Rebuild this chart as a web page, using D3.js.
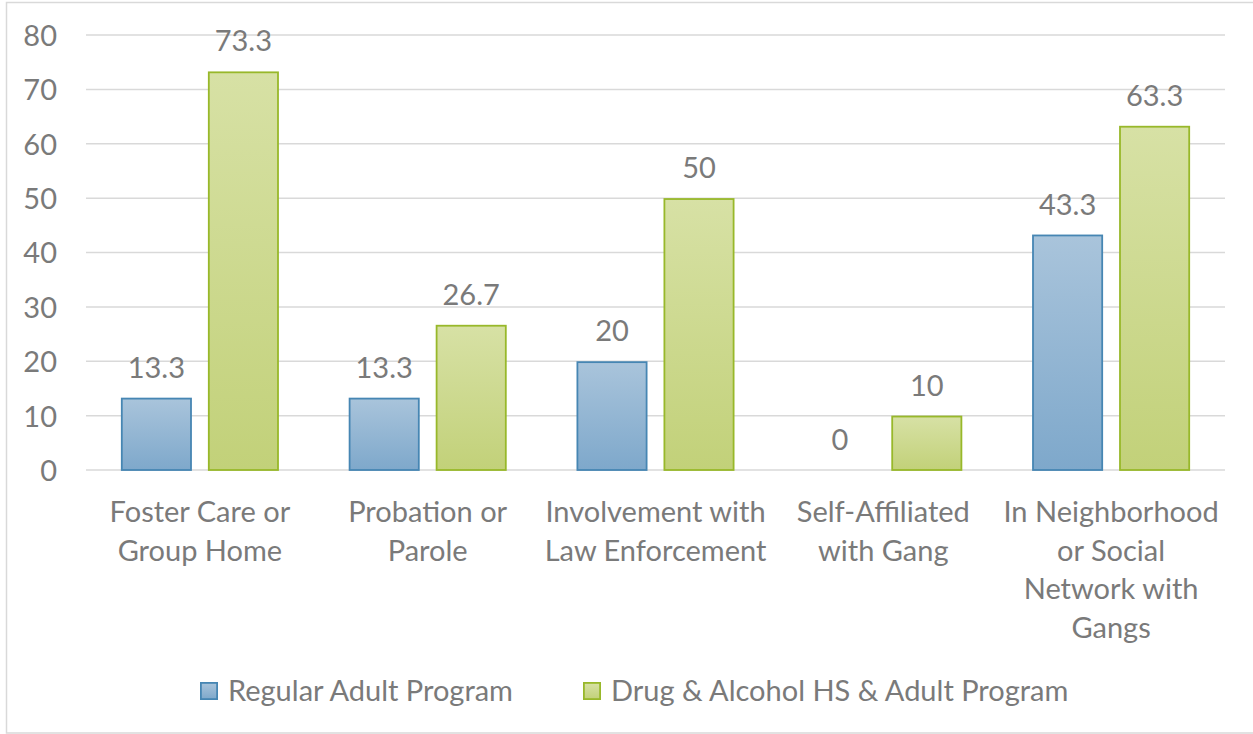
<!DOCTYPE html>
<html>
<head>
<meta charset="utf-8">
<script src="https://cdn.jsdelivr.net/npm/d3@7"></script>
<style>
  html, body { margin: 0; padding: 0; background: #fff; }
  svg { display: block; }
  text { font-family: Lato, "Open Sans", sans-serif; fill: #7a7a7a; }
</style>
</head>
<body>
<svg id="chart" width="1253" height="734"></svg>
<script>
// Category labels (each entry is a list of wrapped lines)
const categories = [
  ["Foster Care or", "Group Home"],
  ["Probation or", "Parole"],
  ["Involvement with", "Law Enforcement"],
  ["Self-Affiliated", "with Gang"],
  ["In Neighborhood", "or Social", "Network with", "Gangs"]
];
const seriesNames = ["Regular Adult Program", "Drug & Alcohol HS & Adult Program"];
const regularAdult = [13.3, 13.3, 20, 0, 43.3];
const drugAlcohol = [73.3, 26.7, 50, 10, 63.3];
const yTicks = [0, 10, 20, 30, 40, 50, 60, 70, 80];

const svg = d3.select("#chart");
const W = 1253, H = 734;
const plot = { left: 86, right: 1225, top: 35, bottom: 470 };
const FS = 29;

// Outer chart frame
svg.append("rect")
  .attr("x", 6.5).attr("y", 2.5)
  .attr("width", W + 10).attr("height", H - 2.5 - 1)
  .attr("fill", "#fff").attr("stroke", "#d9d9d9").attr("stroke-width", 1.5);

const defs = svg.append("defs");
const grads = [
  { id: "gBlue", top: "#a9c4db", bottom: "#7ea8cb", stroke: "#4686b3" },
  { id: "gGreen", top: "#d7e1a5", bottom: "#c2d179", stroke: "#98b82a" }
];
grads.forEach(g => {
  const lg = defs.append("linearGradient").attr("id", g.id)
    .attr("x1", 0).attr("y1", 0).attr("x2", 0).attr("y2", 1);
  lg.append("stop").attr("offset", "0%").attr("stop-color", g.top);
  lg.append("stop").attr("offset", "100%").attr("stop-color", g.bottom);
});

const y = d3.scaleLinear().domain([0, 80]).range([plot.bottom, plot.top]);
const x0 = d3.scaleBand().domain(d3.range(categories.length))
  .range([plot.left, plot.right]).paddingInner(0).paddingOuter(0);
const groupW = 158;
const x1 = d3.scaleBand().domain([0, 1]).range([0, groupW]).paddingInner(16 / 87);
const groupOffset = (x0.bandwidth() - groupW) / 2;

// Horizontal gridlines
svg.append("g").selectAll("line").data(yTicks).join("line")
  .attr("x1", plot.left).attr("x2", plot.right)
  .attr("y1", d => y(d)).attr("y2", d => y(d))
  .attr("stroke", "#d9d9d9").attr("stroke-width", 1.5);

// Y axis labels
const yAxis = d3.axisLeft(y).tickValues(yTicks).tickSize(0).tickPadding(0);
const yg = svg.append("g").attr("transform", `translate(57,0)`).call(yAxis);
yg.select(".domain").remove();
yg.selectAll("text").attr("font-size", FS).attr("fill", "#7a7a7a")
  .attr("dy", "0.36em")
  .style("font-family", "Lato, 'Open Sans', sans-serif");

const series = [regularAdult, drugAlcohol];
series.forEach((vals, si) => {
  const g = svg.append("g");
  const bx = i => x0(i) + groupOffset + x1(si);
  const items = vals.map((v, i) => ({ v, i }));
  g.selectAll("rect").data(items.filter(d => d.v > 0)).join("rect")
    .attr("x", d => bx(d.i) + 0.9)
    .attr("y", d => y(d.v) + 0.9)
    .attr("width", x1.bandwidth() - 1.8)
    .attr("height", d => y(0) - y(d.v) - 0.9)
    .attr("fill", `url(#${grads[si].id})`)
    .attr("stroke", grads[si].stroke).attr("stroke-width", 1.8);
  g.selectAll("text").data(items).join("text")
    .attr("x", d => bx(d.i) + x1.bandwidth() / 2)
    .attr("y", d => y(d.v) - 20)
    .attr("text-anchor", "middle").attr("font-size", FS)
    .text(d => d.v);
});

// Category labels
const cg = svg.append("g");
categories.forEach((lines, i) => {
  const cx = x0(i) + x0.bandwidth() / 2;
  const t = cg.append("text").attr("text-anchor", "middle").attr("font-size", FS);
  lines.forEach((ln, k) => {
    t.append("tspan").attr("x", cx).attr("y", 522 + k * 38.5).text(ln);
  });
});

// Legend
const legendX = [200, 583];
seriesNames.forEach((name, si) => {
  const lg = svg.append("g").attr("transform", `translate(${legendX[si]},682)`);
  lg.append("rect").attr("x", 0.9).attr("y", 0.9).attr("width", 16.2).attr("height", 16.2)
    .attr("fill", `url(#${grads[si].id})`)
    .attr("stroke", grads[si].stroke).attr("stroke-width", 1.8);
  lg.append("text").attr("x", 28).attr("y", 18.5).attr("font-size", FS).text(name);
});
</script>
</body>
</html>
